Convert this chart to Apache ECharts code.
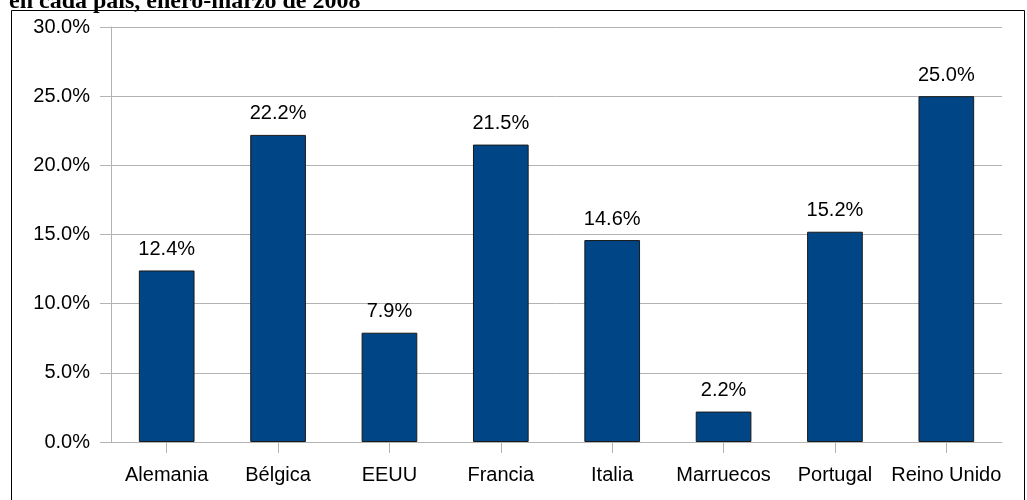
<!DOCTYPE html>
<html>
<head>
<meta charset="utf-8">
<script src="https://cdn.jsdelivr.net/npm/echarts@6/dist/echarts.min.js"></script>
<style>
  html, body { margin: 0; padding: 0; background: #fff; }
  #chart { width: 1027px; height: 500px; }
</style>
</head>
<body>
<div id="chart"></div>
<script>
const categories = ['Alemania', 'Bélgica', 'EEUU', 'Francia', 'Italia', 'Marruecos', 'Portugal', 'Reino Unido']
const values = [12.4, 22.2, 7.9, 21.5, 14.6, 2.2, 15.2, 25.0]
const titleText = 'en cada país, enero-marzo de 2008'

const chart = echarts.init(document.getElementById('chart'))
chart.setOption({
  animation: false,
  textStyle: { fontFamily: 'Liberation Sans' },
  title: {
    text: titleText,
    left: 9,
    top: -10,
    padding: 0,
    textStyle: {
      fontFamily: 'Liberation Serif',
      fontWeight: 'bold',
      fontSize: 24,
      color: '#000'
    }
  },
  graphic: [
    {
      type: 'rect',
      shape: { x: 11.5, y: 10.5, width: 1013, height: 500 },
      style: { fill: 'none', stroke: '#000', lineWidth: 1 },
      silent: true
    }
  ],
  grid: { left: 111, right: 25, top: 27, bottom: 58 },
  xAxis: {
    type: 'category',
    data: categories,
    axisLine: { show: true, lineStyle: { color: '#b3b3b3' } },
    axisTick: { show: true, alignWithLabel: true, length: 11, lineStyle: { color: '#b3b3b3' } },
    axisLabel: { color: '#000', fontSize: 20, margin: 23, interval: 0 }
  },
  yAxis: {
    type: 'value',
    min: 0,
    max: 30,
    interval: 5,
    axisLine: { show: true, lineStyle: { color: '#b3b3b3' } },
    axisTick: { show: true, length: 11, lineStyle: { color: '#b3b3b3' } },
    splitLine: { show: true, lineStyle: { color: '#b3b3b3' } },
    axisLabel: {
      color: '#000',
      fontSize: 20,
      margin: 21,
      formatter: v => v.toFixed(1) + '%'
    }
  },
  series: [
    {
      type: 'bar',
      data: values,
      barWidth: '50%',
      itemStyle: { color: '#004586', borderColor: '#1a1a1a', borderWidth: 1 },
      label: {
        show: true,
        position: 'top',
        distance: 11,
        color: '#000',
        fontSize: 20,
        formatter: p => p.value.toFixed(1) + '%'
      }
    }
  ]
})
</script>
</body>
</html>
